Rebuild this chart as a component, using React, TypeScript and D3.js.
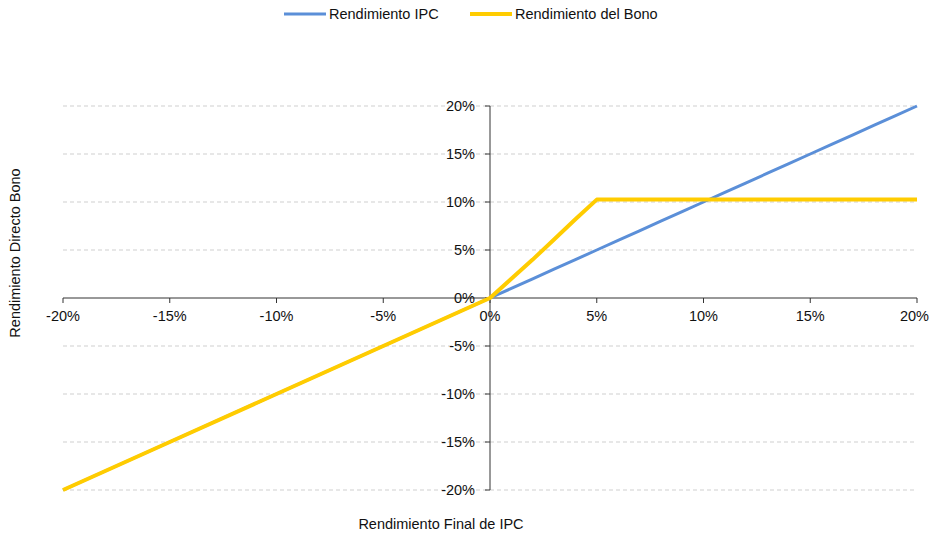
import * as d3 from "d3";

// x values (Rendimiento Final de IPC), in percent
const ipcX = [-20, -15, -10, -5, 0, 1, 2, 3, 4, 5, 6, 7, 8, 9, 10, 11, 12, 13, 14, 15, 16, 17, 18, 19, 20];
const ipcReturn = [-20, -15, -10, -5, 0, 1, 2, 3, 4, 5, 6, 7, 8, 9, 10, 11, 12, 13, 14, 15, 16, 17, 18, 19, 20];
const bondReturn = [-20, -15, -10, -5, 0, 2, 4, 6.1, 8.2, 10.25, 10.25, 10.25, 10.25, 10.25, 10.25, 10.25, 10.25, 10.25, 10.25, 10.25, 10.25, 10.25, 10.25, 10.25, 10.25];
const tickValues = [-20, -15, -10, -5, 0, 5, 10, 15, 20];
const seriesNames = ["Rendimiento IPC", "Rendimiento del Bono"];
const seriesColors = ["#5b8fd8", "#ffcc00"];

const W = 930;
const H = 534;
const font = "'Liberation Sans', Arial, sans-serif";
const fs = 14.5;

export default function App() {
  const x = d3.scaleLinear().domain([-20, 20]).range([63, 917]);
  const y = d3.scaleLinear().domain([-20, 20]).range([490, 106]);
  const line = d3
    .line<number>()
    .x((_, i) => x(ipcX[i]))
    .y((d) => y(d));
  const fmt = (v: number) => `${v}%`;

  return (
    <svg
      width={W}
      height={H}
      style={{ position: "absolute", left: 0, top: 0, background: "#fff" }}
      fontFamily={font}
    >
      {/* grid */}
      {tickValues
        .filter((t) => t !== 0)
        .map((t) => (
          <line
            key={"g" + t}
            x1={x(-20)}
            x2={x(20)}
            y1={y(t)}
            y2={y(t)}
            stroke="#cfcfcf"
            strokeDasharray="4,3"
          />
        ))}
      {/* x axis */}
      <line x1={x(-20)} x2={x(20)} y1={y(0)} y2={y(0)} stroke="#333" />
      {tickValues.map((t, i) => {
        const last = i === tickValues.length - 1;
        return (
          <g key={"xt" + t}>
            <line x1={x(t)} x2={x(t)} y1={y(0)} y2={y(0) + 5} stroke="#333" />
            <text
              x={last ? W - 1 : x(t)}
              y={y(0) + 23}
              textAnchor={last ? "end" : "middle"}
              fontSize={fs}
              fill="#111"
            >
              {fmt(t)}
            </text>
          </g>
        );
      })}
      {/* y axis */}
      <line x1={x(0)} x2={x(0)} y1={y(-20)} y2={y(20)} stroke="#333" />
      {tickValues.map((t) => (
        <g key={"yt" + t}>
          <line x1={x(0) - 5} x2={x(0)} y1={y(t)} y2={y(t)} stroke="#333" />
          <text x={x(0) - 15} y={y(t) + 5} textAnchor="end" fontSize={fs} fill="#111">
            {fmt(t)}
          </text>
        </g>
      ))}
      {/* series */}
      <path d={line(ipcReturn) ?? ""} fill="none" stroke={seriesColors[0]} strokeWidth={3} />
      <path d={line(bondReturn) ?? ""} fill="none" stroke={seriesColors[1]} strokeWidth={4} strokeLinejoin="round" />
      {/* axis titles */}
      <text x={441} y={529} textAnchor="middle" fontSize={fs} fill="#111">
        Rendimiento Final de IPC
      </text>
      <text
        transform="translate(20,253) rotate(-90)"
        textAnchor="middle"
        fontSize={fs}
        fill="#111"
      >
        Rendimiento Directo Bono
      </text>
      {/* legend */}
      {seriesNames.map((name, i) => {
        const lx = i === 0 ? 284 : 470;
        return (
          <g key={name}>
            <line
              x1={lx}
              x2={lx + 42}
              y1={14}
              y2={14}
              stroke={seriesColors[i]}
              strokeWidth={i === 0 ? 3 : 4}
            />
            <text x={lx + 45} y={19} fontSize={fs} fill="#111">
              {name}
            </text>
          </g>
        );
      })}
    </svg>
  );
}
